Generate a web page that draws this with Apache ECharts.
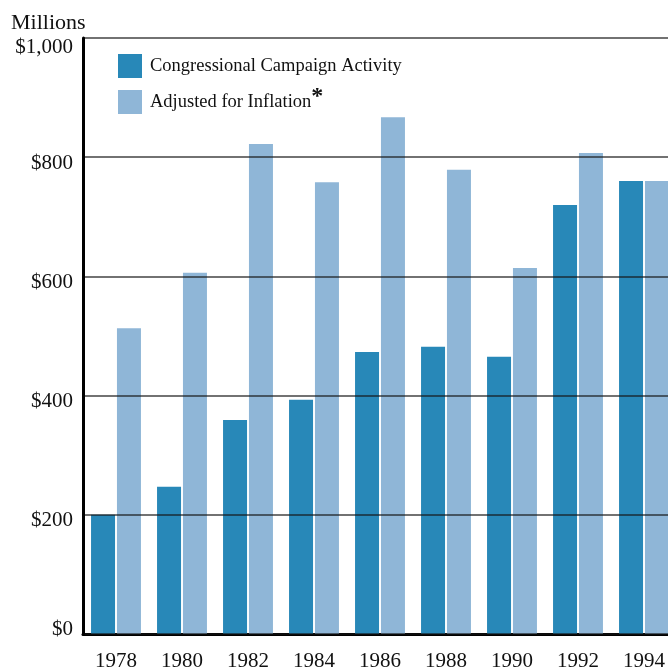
<!DOCTYPE html>
<html>
<head>
<meta charset="utf-8">
<script src="https://cdn.jsdelivr.net/npm/echarts@6/dist/echarts.min.js"></script>
<style>html,body{margin:0;padding:0;background:#fff}#c{width:668px;height:670px}</style>
</head>
<body>
<div id="c"></div>
<script>
const years = ['1978','1980','1982','1984','1986','1988','1990','1992','1994'];
const campaignActivity = [200, 247, 359, 393, 473, 482, 465, 720, 760];
const adjustedForInflation = [513, 606, 822, 758, 867, 779, 614, 807, 760];
const yTicks = [0, 200, 400, 600, 800, 1000];

const FONT = '"Liberation Serif", "Times New Roman", serif';
const chart = echarts.init(document.getElementById('c'), null, {renderer: 'canvas'});
chart.setOption({
  animation: false,
  backgroundColor: '#fff',
  title: {
    text: 'Millions', left: 6, top: 7,
    textStyle: {fontFamily: FONT, fontSize: 22, fontWeight: 'normal', color: '#111'}
  },
  legend: {
    orient: 'vertical', left: 113, top: 49,
    itemWidth: 24, itemHeight: 24, itemGap: 7,
    icon: 'rect',
    data: ['Congressional Campaign Activity', 'Adjusted for Inflation'],
    formatter: function (n) { return n === 'Adjusted for Inflation' ? n + '{a|*}' : n; },
    textStyle: {
      fontFamily: FONT, fontSize: 18.5, color: '#111', padding: [0, 0, 0, 3],
      rich: {a: {fontFamily: FONT, fontSize: 24, fontWeight: 'bold', color: '#111', padding: [0, 0, 10, 0]}}
    }
  },
  grid: {left: 83, top: 38, right: -9, bottom: 36, containLabel: false, outerBoundsMode: 'none'},
  xAxis: {
    type: 'category', data: years,
    axisLine: {lineStyle: {color: '#000', width: 3}},
    axisTick: {show: false},
    axisLabel: {fontFamily: FONT, fontSize: 21, color: '#111', margin: 17}
  },
  yAxis: {
    type: 'value', min: 0, max: 1000, interval: 200, z: 5,
    axisLine: {show: true, lineStyle: {color: '#000', width: 3}},
    axisTick: {show: false},
    splitLine: {lineStyle: {color: 'rgba(20,20,20,0.8)', width: 1.5}},
    axisLabel: {
      fontFamily: FONT, fontSize: 21, color: '#111', margin: 10,
      formatter: function (v) {
        if (yTicks.indexOf(v) < 0) return '';
        const s = '$' + v.toLocaleString('en-US');
        if (v === 1000) return '{t|' + s + '}';
        if (v === 0) return '{b|' + s + '}';
        return '{m|' + s + '}';
      },
      rich: {
        t: {fontFamily: FONT, fontSize: 21, color: '#111', padding: [18, 0, 0, 0]},
        m: {fontFamily: FONT, fontSize: 21, color: '#111', padding: [12, 0, 0, 0]},
        b: {fontFamily: FONT, fontSize: 21, color: '#111', padding: [0, 0, 10, 0]}
      }
    }
  },
  series: [
    {name: 'Congressional Campaign Activity', type: 'bar', data: campaignActivity,
     barWidth: 24, barGap: '8%', itemStyle: {color: '#2888b8'}},
    {name: 'Adjusted for Inflation', type: 'bar', data: adjustedForInflation,
     barWidth: 24, barGap: '8%', itemStyle: {color: '#8fb6d7'}}
  ]
});
</script>
</body>
</html>
